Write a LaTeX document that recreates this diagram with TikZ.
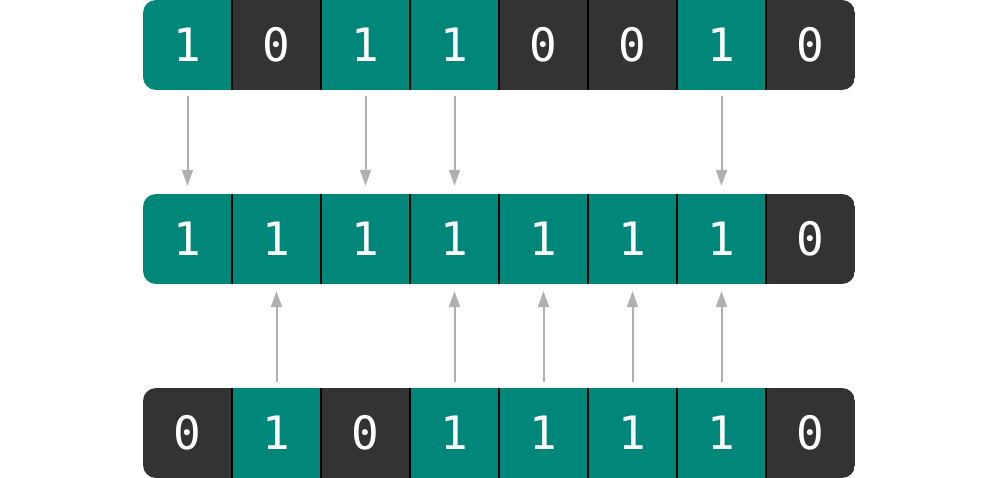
\documentclass[tikz,border=0pt]{standalone}
\usepackage{fontspec}
\setmonofont{DejaVu Sans Mono}
\usetikzlibrary{arrows.meta}
\definecolor{tealbit}{HTML}{00877A}
\definecolor{darkbit}{HTML}{333333}
\definecolor{arrowgray}{HTML}{B0B0B0}
\tikzset{
  bit/.style={minimum width=89pt, minimum height=90pt, inner sep=0pt, text=white,
    font=\ttfamily\fontsize{46}{46}\selectfont},
  bit1/.style={fill=tealbit},
  bit0/.style={fill=darkbit},
  flow/.style={draw=arrowgray, line width=2pt, -{Triangle[width=11pt,length=16pt]}},
}
\begin{document}
\begin{tikzpicture}[x=1pt,y=1pt]
  \useasboundingbox (0,0) rectangle (986,-478);
  \foreach \row/\top/\bits in {a/0/{1,0,1,1,0,0,1,0},
      b/194/{1,1,1,1,1,1,1,0},
      c/388/{0,1,0,1,1,1,1,0}} {
    \begin{scope}
      \clip[rounded corners=13pt] (143,-\top) rectangle ++(712,-90);
      \foreach \v [count=\i from 0] in \bits
        \node[bit, bit\v] (\row\i) at (187.5+89*\i, -\top-45) {\v};
      \foreach \i in {1,...,7}
        \draw[black, line width=1.5pt] (\row\i.north west) -- (\row\i.south west);
    \end{scope}
  }
  % top row feeds the middle row
  \foreach \i in {0,2,3,6}
    \draw[flow, shorten <=6pt, shorten >=8pt] (a\i.south) -- (b\i.north);
  % bottom row feeds the middle row
  \foreach \i in {1,3,4,5,6}
    \draw[flow, shorten <=6pt, shorten >=7pt] (c\i.north) -- (b\i.south);
\end{tikzpicture}
\end{document}
